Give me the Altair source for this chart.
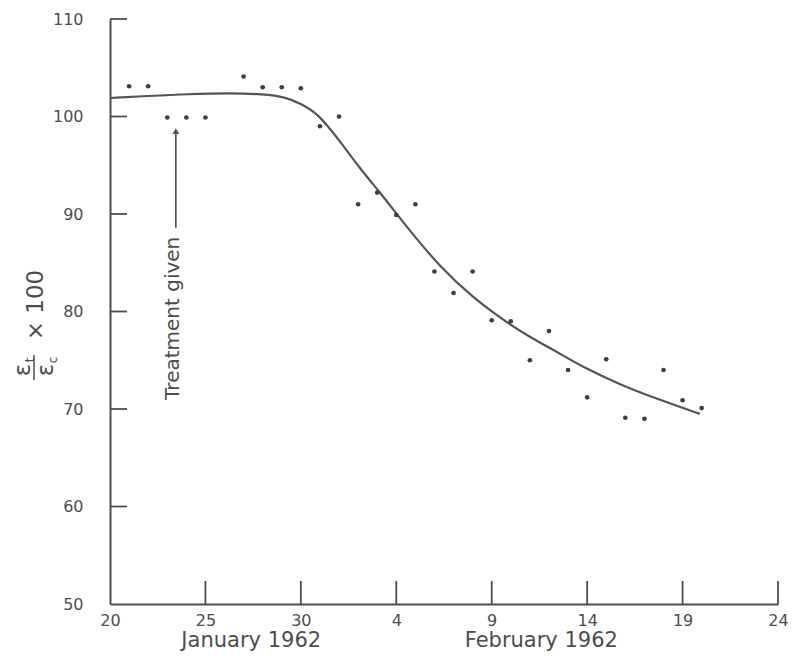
import altair as alt
import pandas as pd

# Day index: January days as-is, February days as 31 + day
point_days = [21, 22, 23, 24, 25, 27, 28, 29, 30, 31, 32, 33, 34, 35, 36, 37, 38, 39,
              40, 41, 42, 43, 44, 45, 46, 47, 48, 49, 50, 51]
point_vals = [103.1, 103.1, 99.9, 99.9, 99.9, 104.1, 103.0, 103.0, 102.9, 99.0, 100.0,
              91.0, 92.2, 89.9, 91.0, 84.1, 81.9, 84.1, 79.1, 79.0, 75.0, 78.0, 74.0,
              71.2, 75.1, 69.1, 69.0, 74.0, 70.9, 70.1]

curve_days = [20, 22, 24, 26.4, 28, 29.2, 30.0, 30.9, 32.0, 33.0, 34.15, 35.1, 36.0,
              37.2, 39.0, 41.0, 42.0, 43.0, 44.0, 44.6, 46.7, 49.0, 50.9]
curve_vals = [101.9, 102.1, 102.3, 102.4, 102.3, 102.0, 101.3, 100.3, 97.6, 94.9, 92.2,
              89.8, 87.6, 84.8, 81.4, 78.6, 77.4, 76.3, 75.2, 74.5, 72.5, 70.8, 69.5]

x_ticks = [20, 25, 30, 35, 40, 45, 50, 55]
y_ticks = [50, 60, 70, 80, 90, 100, 110]

W, H = 668, 585
INK = "#4d4d4d"
FONT = "DejaVu Sans"

xs = alt.Scale(domain=[20, 55], nice=False, zero=False)
ys = alt.Scale(domain=[50, 110], nice=False, zero=False)

pts = pd.DataFrame({"day": point_days, "val": point_vals})
crv = pd.DataFrame({"day": curve_days, "val": curve_vals})

x_axis = alt.Axis(values=x_ticks, labelExpr="datum.value > 31 ? datum.value - 31 : datum.value",
                  ticks=False, grid=False, domainColor=INK, domainWidth=2, labelFlush=False,
                  labelFont=FONT, labelFontSize=16, labelColor=INK, labelPadding=8, title=None)
y_axis = alt.Axis(values=y_ticks, ticks=False, grid=False, domainColor=INK, domainWidth=2,
                  labelFlush=False,
                  labelFont=FONT, labelFontSize=16, labelColor=INK, labelPadding=27, title=None)

points = alt.Chart(pts).mark_circle(size=22, color="#3f3f3f", opacity=1).encode(
    x=alt.X("day:Q", scale=xs, axis=x_axis),
    y=alt.Y("val:Q", scale=ys, axis=y_axis),
)

curve = alt.Chart(crv).mark_line(color="#555555", strokeWidth=2.2, interpolate="basis").encode(
    x=alt.X("day:Q", scale=xs),
    y=alt.Y("val:Q", scale=ys),
)

xt = pd.DataFrame({"v": x_ticks[1:]})
x_tick_rules = alt.Chart(xt).mark_rule(color=INK, strokeWidth=1.8).encode(
    x=alt.X("v:Q", scale=xs), y=alt.value(H), y2=alt.value(H - 23)
)
yt = pd.DataFrame({"v": y_ticks[1:]})
y_tick_rules = alt.Chart(yt).mark_rule(color=INK, strokeWidth=1.8).encode(
    y=alt.Y("v:Q", scale=ys), x=alt.value(0), x2=alt.value(17)
)

# "Treatment given" annotation with arrow
ann = pd.DataFrame({"day": [23.3], "val": [79.3], "label": ["Treatment given"]})
ann_text = alt.Chart(ann).mark_text(angle=270, font=FONT, fontSize=20, color=INK,
                                    align="center", baseline="middle").encode(
    x=alt.X("day:Q", scale=xs), y=alt.Y("val:Q", scale=ys), text="label:N"
)
arrow_df = pd.DataFrame({"day": [23.45], "y1": [88.6], "y2": [98.4]})
arrow_line = alt.Chart(arrow_df).mark_rule(color=INK, strokeWidth=1.6).encode(
    x=alt.X("day:Q", scale=xs), y=alt.Y("y1:Q", scale=ys), y2="y2:Q"
)
arrow_head = alt.Chart(pd.DataFrame({"day": [23.45], "val": [98.5]})).mark_point(
    shape="triangle-up", filled=True, size=45, color=INK, opacity=1).encode(
    x=alt.X("day:Q", scale=xs), y=alt.Y("val:Q", scale=ys)
)

# Month captions under the x axis
months = pd.DataFrame({"day": [27.4, 42.6], "label": ["January 1962", "February 1962"]})
month_text = alt.Chart(months).mark_text(font=FONT, fontSize=21, color=INK,
                                         align="center", baseline="middle").encode(
    x=alt.X("day:Q", scale=xs), y=alt.value(H + 37), text="label:N"
)

# Y-axis title: fraction eps_t / eps_c x 100 (rotated)
one = pd.DataFrame({"a": [0]})
def rot_text(txt, xv, yv, size):
    return alt.Chart(one).mark_text(text=txt, angle=270, font=FONT, fontSize=size, color=INK,
                                    align="center", baseline="middle").encode(
        x=alt.value(xv), y=alt.value(yv))

ytitle = [
    rot_text("× 100", -74, 286, 23),
    rot_text("ε", -87, 351, 23),
    rot_text("t", -80, 341, 12),
    rot_text("ε", -64, 351, 23),
    rot_text("c", -57, 341, 12),
]
frac_bar = alt.Chart(one).mark_rule(color=INK, strokeWidth=1.5).encode(
    x=alt.value(-76), y=alt.value(336), y2=alt.value(361)
)

chart = alt.layer(
    curve, points, x_tick_rules, y_tick_rules, ann_text, arrow_line, arrow_head,
    month_text, frac_bar, *ytitle
).properties(
    width=W, height=H,
    autosize=alt.AutoSizeParams(type="none"),
    padding={"left": 102, "top": 11, "right": 10, "bottom": 52},
    background="white",
).configure_view(stroke=None)

chart.save("out.html", embed_options={"renderer": "svg", "actions": False})
